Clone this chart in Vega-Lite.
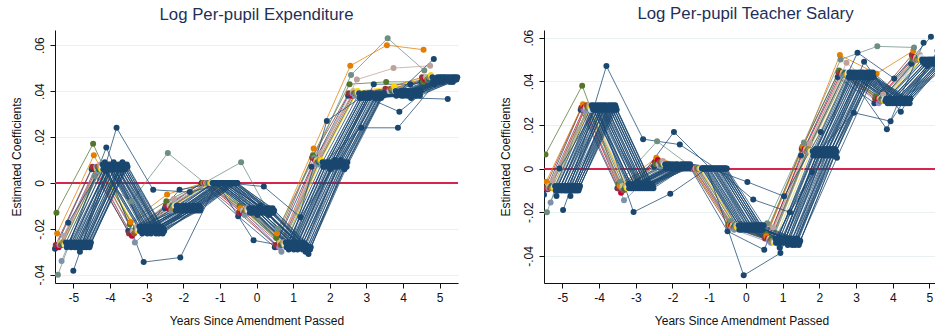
{
  "$schema": "https://vega.github.io/schema/vega-lite/v6.json",
  "padding": {"left": 9, "top": 6, "right": 0, "bottom": 0},
  "spacing": 38,
  "config": {
    "view": {"stroke": null},
    "font": "Liberation Sans",
    "title": {"fontSize": 16.8, "fontWeight": "normal", "color": "#1F2F57", "offset": 6},
    "axis": {"labelFontSize": 12, "titleFontSize": 12, "titleFontWeight": "normal", "labelColor": "#111111", "titleColor": "#111111", "domainColor": "#111111", "tickColor": "#111111", "tickSize": 5, "domainWidth": 1, "tickWidth": 1, "labelOverlap": false},
    "axisX": {"grid": false, "labelPadding": 4, "titlePadding": 12, "labelOverlap": false, "labelFlush": false, "labelSeparation": 0},
    "axisY": {"grid": true, "gridColor": "#E9F1F3", "labelAngle": -90, "labelAlign": "center", "labelBaseline": "bottom", "labelPadding": 4, "titlePadding": 10}
  },
  "datasets": {
    "expenditure": [
      {"s":1,"x":-5.5,"y":-0.0287},{"s":1,"x":-4.5,"y":0.006},{"s":1,"x":-3.5,"y":-0.021},{"s":1,"x":-2.5,"y":-0.011},{"s":1,"x":-1.5,"y":0},{"s":1,"x":-0.5,"y":-0.0145},{"s":1,"x":0.5,"y":-0.028},{"s":1,"x":1.5,"y":0.007},{"s":1,"x":2.5,"y":0.038},{"s":1,"x":3.5,"y":0.039},{"s":1,"x":4.5,"y":0.044},
      {"s":2,"x":-5.48,"y":-0.027},{"s":2,"x":-4.48,"y":0.007},{"s":2,"x":-3.48,"y":-0.022},{"s":2,"x":-2.48,"y":-0.01},{"s":2,"x":-1.48,"y":0},{"s":2,"x":-0.48,"y":-0.013},{"s":2,"x":0.52,"y":-0.027},{"s":2,"x":1.52,"y":0.011},{"s":2,"x":2.52,"y":0.039},{"s":2,"x":3.52,"y":0.041},{"s":2,"x":4.52,"y":0.046},
      {"s":3,"x":-5.46,"y":-0.013},{"s":3,"x":-4.46,"y":0.017},{"s":3,"x":-3.46,"y":-0.018},{"s":3,"x":-2.46,"y":-0.008},{"s":3,"x":-1.46,"y":0},{"s":3,"x":-0.46,"y":-0.01},{"s":3,"x":0.54,"y":-0.024},{"s":3,"x":1.54,"y":0.012},{"s":3,"x":2.54,"y":0.043},{"s":3,"x":3.54,"y":0.044},{"s":3,"x":4.54,"y":0.044},
      {"s":4,"x":-5.44,"y":-0.022},{"s":4,"x":-4.44,"y":0.012},{"s":4,"x":-3.44,"y":-0.017},{"s":4,"x":-2.44,"y":-0.005},{"s":4,"x":-1.44,"y":0},{"s":4,"x":-0.44,"y":-0.011},{"s":4,"x":0.56,"y":-0.022},{"s":4,"x":1.56,"y":0.015},{"s":4,"x":2.56,"y":0.051},{"s":4,"x":3.56,"y":0.06},{"s":4,"x":4.56,"y":0.058},
      {"s":5,"x":-5.42,"y":-0.04},{"s":5,"x":-4.42,"y":0.003},{"s":5,"x":-3.42,"y":-0.008},{"s":5,"x":-2.42,"y":0.013},{"s":5,"x":-1.42,"y":0},{"s":5,"x":-0.42,"y":0.009},{"s":5,"x":0.58,"y":-0.02},{"s":5,"x":1.58,"y":0.011},{"s":5,"x":2.58,"y":0.047},{"s":5,"x":3.58,"y":0.063},{"s":5,"x":4.58,"y":0.049},
      {"s":6,"x":-5.4,"y":-0.028},{"s":6,"x":-4.4,"y":0.006},{"s":6,"x":-3.4,"y":-0.023},{"s":6,"x":-2.4,"y":-0.011},{"s":6,"x":-1.4,"y":0},{"s":6,"x":-0.4,"y":-0.013},{"s":6,"x":0.6,"y":-0.028},{"s":6,"x":1.6,"y":0.01},{"s":6,"x":2.6,"y":0.038},{"s":6,"x":3.6,"y":0.04},{"s":6,"x":4.6,"y":0.045},
      {"s":7,"x":-5.38,"y":-0.027},{"s":7,"x":-4.38,"y":0.007},{"s":7,"x":-3.38,"y":-0.021},{"s":7,"x":-2.38,"y":-0.01},{"s":7,"x":-1.38,"y":0},{"s":7,"x":-0.38,"y":-0.012},{"s":7,"x":0.62,"y":-0.028},{"s":7,"x":1.62,"y":0.009},{"s":7,"x":2.62,"y":0.039},{"s":7,"x":3.62,"y":0.04},{"s":7,"x":4.62,"y":0.046},
      {"s":8,"x":-5.36,"y":-0.026},{"s":8,"x":-4.36,"y":0.006},{"s":8,"x":-3.36,"y":-0.021},{"s":8,"x":-2.36,"y":-0.01},{"s":8,"x":-1.36,"y":0},{"s":8,"x":-0.36,"y":-0.012},{"s":8,"x":0.64,"y":-0.026},{"s":8,"x":1.64,"y":0.01},{"s":8,"x":2.64,"y":0.04},{"s":8,"x":3.64,"y":0.04},{"s":8,"x":4.64,"y":0.046},
      {"s":9,"x":-5.34,"y":-0.027},{"s":9,"x":-4.34,"y":0.007},{"s":9,"x":-3.34,"y":-0.022},{"s":9,"x":-2.34,"y":-0.011},{"s":9,"x":-1.34,"y":0},{"s":9,"x":-0.34,"y":-0.013},{"s":9,"x":0.66,"y":-0.027},{"s":9,"x":1.66,"y":0.009},{"s":9,"x":2.66,"y":0.039},{"s":9,"x":3.66,"y":0.041},{"s":9,"x":4.66,"y":0.045},
      {"s":10,"x":-5.32,"y":-0.034},{"s":10,"x":-4.32,"y":0.005},{"s":10,"x":-3.32,"y":-0.026},{"s":10,"x":-2.32,"y":-0.012},{"s":10,"x":-1.32,"y":0},{"s":10,"x":-0.32,"y":-0.014},{"s":10,"x":0.68,"y":-0.03},{"s":10,"x":1.68,"y":0.008},{"s":10,"x":2.68,"y":0.038},{"s":10,"x":3.68,"y":0.04},{"s":10,"x":4.68,"y":0.045},
      {"s":11,"x":-5.3,"y":-0.027},{"s":11,"x":-4.3,"y":0.006},{"s":11,"x":-3.3,"y":-0.02},{"s":11,"x":-2.3,"y":-0.01},{"s":11,"x":-1.3,"y":0},{"s":11,"x":-0.3,"y":-0.012},{"s":11,"x":0.7,"y":-0.027},{"s":11,"x":1.7,"y":0.009},{"s":11,"x":2.7,"y":0.039},{"s":11,"x":3.7,"y":0.04},{"s":11,"x":4.7,"y":0.045},
      {"s":12,"x":-5.28,"y":-0.026},{"s":12,"x":-4.28,"y":0.007},{"s":12,"x":-3.28,"y":-0.021},{"s":12,"x":-2.28,"y":-0.011},{"s":12,"x":-1.28,"y":0},{"s":12,"x":-0.28,"y":-0.012},{"s":12,"x":0.72,"y":-0.026},{"s":12,"x":1.72,"y":0.01},{"s":12,"x":2.72,"y":0.039},{"s":12,"x":3.72,"y":0.041},{"s":12,"x":4.72,"y":0.046},
      {"s":13,"x":-5.26,"y":-0.023},{"s":13,"x":-4.26,"y":0.008},{"s":13,"x":-3.26,"y":-0.019},{"s":13,"x":-2.26,"y":-0.007},{"s":13,"x":-1.26,"y":0},{"s":13,"x":-0.26,"y":-0.011},{"s":13,"x":0.74,"y":-0.026},{"s":13,"x":1.74,"y":0.013},{"s":13,"x":2.74,"y":0.045},{"s":13,"x":3.74,"y":0.05},{"s":13,"x":4.74,"y":0.051},
      {"s":14,"x":-5.24,"y":-0.027},{"s":14,"x":-4.24,"y":0.006},{"s":14,"x":-3.24,"y":-0.021},{"s":14,"x":-2.24,"y":-0.01},{"s":14,"x":-1.24,"y":0},{"s":14,"x":-0.24,"y":-0.012},{"s":14,"x":0.76,"y":-0.027},{"s":14,"x":1.76,"y":0.01},{"s":14,"x":2.76,"y":0.04},{"s":14,"x":3.76,"y":0.042},{"s":14,"x":4.76,"y":0.047},
      {"s":15,"x":-5.22,"y":-0.027},{"s":15,"x":-4.22,"y":0.007},{"s":15,"x":-3.22,"y":-0.02},{"s":15,"x":-2.22,"y":-0.01},{"s":15,"x":-1.22,"y":0},{"s":15,"x":-0.22,"y":-0.012},{"s":15,"x":0.78,"y":-0.027},{"s":15,"x":1.78,"y":0.009},{"s":15,"x":2.78,"y":0.039},{"s":15,"x":3.78,"y":0.04},{"s":15,"x":4.78,"y":0.046},
      {"s":16,"x":-5.2,"y":-0.026},{"s":16,"x":-4.2,"y":0.008},{"s":16,"x":-3.2,"y":-0.019},{"s":16,"x":-2.2,"y":-0.012},{"s":16,"x":-1.2,"y":0},{"s":16,"x":-0.2,"y":-0.011},{"s":16,"x":0.8,"y":-0.026},{"s":16,"x":1.8,"y":0.009},{"s":16,"x":2.8,"y":0.039},{"s":16,"x":3.8,"y":0.04},{"s":16,"x":4.8,"y":0.046},
      {"s":17,"x":-5.18,"y":-0.028},{"s":17,"x":-4.18,"y":0.006},{"s":17,"x":-3.18,"y":-0.021},{"s":17,"x":-2.18,"y":-0.01},{"s":17,"x":-1.18,"y":0},{"s":17,"x":-0.18,"y":-0.013},{"s":17,"x":0.82,"y":-0.028},{"s":17,"x":1.82,"y":0.007},{"s":17,"x":2.82,"y":0.037},{"s":17,"x":3.82,"y":0.038},{"s":17,"x":4.82,"y":0.044},
      {"s":18,"x":-5.16,"y":-0.027},{"s":18,"x":-4.16,"y":0.007},{"s":18,"x":-3.16,"y":-0.02},{"s":18,"x":-2.16,"y":-0.011},{"s":18,"x":-1.16,"y":0},{"s":18,"x":-0.16,"y":-0.012},{"s":18,"x":0.84,"y":-0.027},{"s":18,"x":1.84,"y":0.008},{"s":18,"x":2.84,"y":0.038},{"s":18,"x":3.84,"y":0.039},{"s":18,"x":4.84,"y":0.054},
      {"s":19,"x":-5.14,"y":-0.0174},{"s":19,"x":-4.14,"y":0.009},{"s":19,"x":-3.14,"y":-0.019},{"s":19,"x":-2.14,"y":-0.01},{"s":19,"x":-1.14,"y":0},{"s":19,"x":-0.14,"y":-0.011},{"s":19,"x":0.86,"y":-0.026},{"s":19,"x":1.86,"y":0.009},{"s":19,"x":2.86,"y":0.024},{"s":19,"x":3.86,"y":0.024},{"s":19,"x":4.86,"y":0.043},
      {"s":20,"x":-5.12,"y":-0.027},{"s":20,"x":-4.12,"y":0.005},{"s":20,"x":-3.12,"y":-0.022},{"s":20,"x":-2.12,"y":-0.012},{"s":20,"x":-1.12,"y":0},{"s":20,"x":-0.12,"y":-0.013},{"s":20,"x":0.88,"y":-0.029},{"s":20,"x":1.88,"y":0.007},{"s":20,"x":2.88,"y":0.037},{"s":20,"x":3.88,"y":0.039},{"s":20,"x":4.88,"y":0.045},
      {"s":21,"x":-5.1,"y":-0.026},{"s":21,"x":-4.1,"y":0.0154},{"s":21,"x":-3.1,"y":-0.021},{"s":21,"x":-2.1,"y":-0.003},{"s":21,"x":-1.1,"y":0},{"s":21,"x":-0.1,"y":-0.012},{"s":21,"x":0.9,"y":-0.027},{"s":21,"x":1.9,"y":0.008},{"s":21,"x":2.9,"y":0.038},{"s":21,"x":3.9,"y":0.031},{"s":21,"x":4.9,"y":0.044},
      {"s":22,"x":-5.08,"y":-0.027},{"s":22,"x":-4.08,"y":0.006},{"s":22,"x":-3.08,"y":-0.0345},{"s":22,"x":-2.08,"y":-0.0325},{"s":22,"x":-1.08,"y":0},{"s":22,"x":-0.08,"y":-0.025},{"s":22,"x":0.92,"y":-0.028},{"s":22,"x":1.92,"y":0.027},{"s":22,"x":2.92,"y":0.038},{"s":22,"x":3.92,"y":0.039},{"s":22,"x":4.92,"y":0.045},
      {"s":23,"x":-5.06,"y":-0.028},{"s":23,"x":-4.06,"y":0.008},{"s":23,"x":-3.06,"y":-0.02},{"s":23,"x":-2.06,"y":-0.011},{"s":23,"x":-1.06,"y":0},{"s":23,"x":-0.06,"y":-0.011},{"s":23,"x":0.94,"y":-0.027},{"s":23,"x":1.94,"y":0.009},{"s":23,"x":2.94,"y":0.039},{"s":23,"x":3.94,"y":0.04},{"s":23,"x":4.94,"y":0.046},
      {"s":24,"x":-5.04,"y":-0.026},{"s":24,"x":-4.04,"y":0.007},{"s":24,"x":-3.04,"y":-0.019},{"s":24,"x":-2.04,"y":-0.012},{"s":24,"x":-1.04,"y":0},{"s":24,"x":-0.04,"y":-0.013},{"s":24,"x":0.96,"y":-0.028},{"s":24,"x":1.96,"y":0.008},{"s":24,"x":2.96,"y":0.038},{"s":24,"x":3.96,"y":0.038},{"s":24,"x":4.96,"y":0.045},
      {"s":25,"x":-5.02,"y":-0.027},{"s":25,"x":-4.02,"y":0.006},{"s":25,"x":-3.02,"y":-0.021},{"s":25,"x":-2.02,"y":-0.011},{"s":25,"x":-1.02,"y":0},{"s":25,"x":-0.02,"y":-0.012},{"s":25,"x":0.98,"y":-0.026},{"s":25,"x":1.98,"y":0.007},{"s":25,"x":2.98,"y":0.037},{"s":25,"x":3.98,"y":0.039},{"s":25,"x":4.98,"y":0.044},
      {"s":26,"x":-5,"y":-0.0383},{"s":26,"x":-4,"y":0.008},{"s":26,"x":-3,"y":-0.02},{"s":26,"x":-2,"y":-0.01},{"s":26,"x":-1,"y":0},{"s":26,"x":0,"y":-0.012},{"s":26,"x":1,"y":-0.027},{"s":26,"x":2,"y":0.008},{"s":26,"x":3,"y":0.038},{"s":26,"x":4,"y":0.04},{"s":26,"x":5,"y":0.046},
      {"s":27,"x":-4.98,"y":-0.027},{"s":27,"x":-3.98,"y":0.007},{"s":27,"x":-2.98,"y":-0.022},{"s":27,"x":-1.98,"y":-0.012},{"s":27,"x":-0.98,"y":0},{"s":27,"x":0.02,"y":-0.014},{"s":27,"x":1.02,"y":-0.029},{"s":27,"x":2.02,"y":0.006},{"s":27,"x":3.02,"y":0.037},{"s":27,"x":4.02,"y":0.038},{"s":27,"x":5.02,"y":0.045},
      {"s":28,"x":-4.96,"y":-0.028},{"s":28,"x":-3.96,"y":0.006},{"s":28,"x":-2.96,"y":-0.02},{"s":28,"x":-1.96,"y":-0.011},{"s":28,"x":-0.96,"y":0},{"s":28,"x":0.04,"y":-0.011},{"s":28,"x":1.04,"y":-0.027},{"s":28,"x":2.04,"y":0.009},{"s":28,"x":3.04,"y":0.039},{"s":28,"x":4.04,"y":0.039},{"s":28,"x":5.04,"y":0.046},
      {"s":29,"x":-4.94,"y":-0.026},{"s":29,"x":-3.94,"y":0.008},{"s":29,"x":-2.94,"y":-0.019},{"s":29,"x":-1.94,"y":-0.01},{"s":29,"x":-0.94,"y":0},{"s":29,"x":0.06,"y":-0.012},{"s":29,"x":1.06,"y":-0.026},{"s":29,"x":2.06,"y":0.008},{"s":29,"x":3.06,"y":0.038},{"s":29,"x":4.06,"y":0.04},{"s":29,"x":5.06,"y":0.045},
      {"s":30,"x":-4.92,"y":-0.027},{"s":30,"x":-3.92,"y":0.007},{"s":30,"x":-2.92,"y":-0.021},{"s":30,"x":-1.92,"y":-0.012},{"s":30,"x":-0.92,"y":0},{"s":30,"x":0.08,"y":-0.013},{"s":30,"x":1.08,"y":-0.028},{"s":30,"x":2.08,"y":0.007},{"s":30,"x":3.08,"y":0.037},{"s":30,"x":4.08,"y":0.039},{"s":30,"x":5.08,"y":0.044},
      {"s":31,"x":-4.9,"y":-0.028},{"s":31,"x":-3.9,"y":0.009},{"s":31,"x":-2.9,"y":-0.02},{"s":31,"x":-1.9,"y":-0.011},{"s":31,"x":-0.9,"y":0},{"s":31,"x":0.1,"y":-0.01},{"s":31,"x":1.1,"y":-0.027},{"s":31,"x":2.1,"y":0.009},{"s":31,"x":3.1,"y":0.039},{"s":31,"x":4.1,"y":0.04},{"s":31,"x":5.1,"y":0.046},
      {"s":32,"x":-4.88,"y":-0.027},{"s":32,"x":-3.88,"y":0.006},{"s":32,"x":-2.88,"y":-0.022},{"s":32,"x":-1.88,"y":-0.012},{"s":32,"x":-0.88,"y":0},{"s":32,"x":0.12,"y":-0.012},{"s":32,"x":1.12,"y":-0.029},{"s":32,"x":2.12,"y":0.008},{"s":32,"x":3.12,"y":0.038},{"s":32,"x":4.12,"y":0.038},{"s":32,"x":5.12,"y":0.045},
      {"s":33,"x":-4.86,"y":-0.026},{"s":33,"x":-3.86,"y":0.007},{"s":33,"x":-2.86,"y":-0.019},{"s":33,"x":-1.86,"y":-0.01},{"s":33,"x":-0.86,"y":0},{"s":33,"x":0.14,"y":-0.011},{"s":33,"x":1.14,"y":-0.026},{"s":33,"x":2.14,"y":0.01},{"s":33,"x":3.14,"y":0.039},{"s":33,"x":4.14,"y":0.039},{"s":33,"x":5.14,"y":0.046},
      {"s":34,"x":-4.84,"y":-0.027},{"s":34,"x":-3.84,"y":0.008},{"s":34,"x":-2.84,"y":-0.021},{"s":34,"x":-1.84,"y":-0.011},{"s":34,"x":-0.84,"y":0},{"s":34,"x":0.16,"y":-0.013},{"s":34,"x":1.16,"y":-0.028},{"s":34,"x":2.16,"y":0.007},{"s":34,"x":3.16,"y":0.038},{"s":34,"x":4.16,"y":0.04},{"s":34,"x":5.16,"y":0.045},
      {"s":35,"x":-4.82,"y":-0.03},{"s":35,"x":-3.82,"y":0.024},{"s":35,"x":-2.82,"y":-0.003},{"s":35,"x":-1.82,"y":-0.004},{"s":35,"x":-0.82,"y":0},{"s":35,"x":0.18,"y":-0.012},{"s":35,"x":1.18,"y":-0.027},{"s":35,"x":2.18,"y":0.008},{"s":35,"x":3.18,"y":0.038},{"s":35,"x":4.18,"y":0.039},{"s":35,"x":5.18,"y":0.045},
      {"s":36,"x":-4.8,"y":-0.027},{"s":36,"x":-3.8,"y":0.007},{"s":36,"x":-2.8,"y":-0.02},{"s":36,"x":-1.8,"y":-0.011},{"s":36,"x":-0.8,"y":0},{"s":36,"x":0.2,"y":-0.0016},{"s":36,"x":1.2,"y":-0.015},{"s":36,"x":2.2,"y":0.009},{"s":36,"x":3.2,"y":0.043},{"s":36,"x":4.2,"y":0.043},{"s":36,"x":5.2,"y":0.046},
      {"s":37,"x":-4.78,"y":-0.028},{"s":37,"x":-3.78,"y":0.006},{"s":37,"x":-2.78,"y":-0.021},{"s":37,"x":-1.78,"y":-0.012},{"s":37,"x":-0.78,"y":0},{"s":37,"x":0.22,"y":-0.012},{"s":37,"x":1.22,"y":-0.028},{"s":37,"x":2.22,"y":0.008},{"s":37,"x":3.22,"y":0.038},{"s":37,"x":4.22,"y":0.037},{"s":37,"x":5.22,"y":0.0365},
      {"s":38,"x":-4.76,"y":-0.026},{"s":38,"x":-3.76,"y":0.008},{"s":38,"x":-2.76,"y":-0.02},{"s":38,"x":-1.76,"y":-0.011},{"s":38,"x":-0.76,"y":0},{"s":38,"x":0.24,"y":-0.013},{"s":38,"x":1.24,"y":-0.027},{"s":38,"x":2.24,"y":0.007},{"s":38,"x":3.24,"y":0.037},{"s":38,"x":4.24,"y":0.039},{"s":38,"x":5.24,"y":0.045},
      {"s":39,"x":-4.74,"y":-0.027},{"s":39,"x":-3.74,"y":0.007},{"s":39,"x":-2.74,"y":-0.022},{"s":39,"x":-1.74,"y":-0.01},{"s":39,"x":-0.74,"y":0},{"s":39,"x":0.26,"y":-0.012},{"s":39,"x":1.26,"y":-0.029},{"s":39,"x":2.26,"y":0.009},{"s":39,"x":3.26,"y":0.038},{"s":39,"x":4.26,"y":0.04},{"s":39,"x":5.26,"y":0.046},
      {"s":40,"x":-4.72,"y":-0.028},{"s":40,"x":-3.72,"y":0.006},{"s":40,"x":-2.72,"y":-0.019},{"s":40,"x":-1.72,"y":-0.012},{"s":40,"x":-0.72,"y":0},{"s":40,"x":0.28,"y":-0.011},{"s":40,"x":1.28,"y":-0.026},{"s":40,"x":2.28,"y":0.008},{"s":40,"x":3.28,"y":0.039},{"s":40,"x":4.28,"y":0.038},{"s":40,"x":5.28,"y":0.044},
      {"s":41,"x":-4.7,"y":-0.027},{"s":41,"x":-3.7,"y":0.008},{"s":41,"x":-2.7,"y":-0.021},{"s":41,"x":-1.7,"y":-0.011},{"s":41,"x":-0.7,"y":0},{"s":41,"x":0.3,"y":-0.013},{"s":41,"x":1.3,"y":-0.028},{"s":41,"x":2.3,"y":0.01},{"s":41,"x":3.3,"y":0.038},{"s":41,"x":4.3,"y":0.039},{"s":41,"x":5.3,"y":0.045},
      {"s":42,"x":-4.68,"y":-0.026},{"s":42,"x":-3.68,"y":0.007},{"s":42,"x":-2.68,"y":-0.02},{"s":42,"x":-1.68,"y":-0.01},{"s":42,"x":-0.68,"y":0},{"s":42,"x":0.32,"y":-0.012},{"s":42,"x":1.32,"y":-0.027},{"s":42,"x":2.32,"y":0.008},{"s":42,"x":3.32,"y":0.037},{"s":42,"x":4.32,"y":0.04},{"s":42,"x":5.32,"y":0.046},
      {"s":43,"x":-4.66,"y":-0.027},{"s":43,"x":-3.66,"y":0.009},{"s":43,"x":-2.66,"y":-0.022},{"s":43,"x":-1.66,"y":-0.012},{"s":43,"x":-0.66,"y":0},{"s":43,"x":0.34,"y":-0.014},{"s":43,"x":1.34,"y":-0.03},{"s":43,"x":2.34,"y":0.007},{"s":43,"x":3.34,"y":0.038},{"s":43,"x":4.34,"y":0.039},{"s":43,"x":5.34,"y":0.045},
      {"s":44,"x":-4.64,"y":-0.028},{"s":44,"x":-3.64,"y":0.006},{"s":44,"x":-2.64,"y":-0.02},{"s":44,"x":-1.64,"y":-0.011},{"s":44,"x":-0.64,"y":0},{"s":44,"x":0.36,"y":-0.011},{"s":44,"x":1.36,"y":-0.027},{"s":44,"x":2.36,"y":0.009},{"s":44,"x":3.36,"y":0.039},{"s":44,"x":4.36,"y":0.038},{"s":44,"x":5.36,"y":0.044},
      {"s":45,"x":-4.62,"y":-0.027},{"s":45,"x":-3.62,"y":0.007},{"s":45,"x":-2.62,"y":-0.021},{"s":45,"x":-1.62,"y":-0.01},{"s":45,"x":-0.62,"y":0},{"s":45,"x":0.38,"y":-0.012},{"s":45,"x":1.38,"y":-0.028},{"s":45,"x":2.38,"y":0.008},{"s":45,"x":3.38,"y":0.038},{"s":45,"x":4.38,"y":0.04},{"s":45,"x":5.38,"y":0.046},
      {"s":46,"x":-4.6,"y":-0.026},{"s":46,"x":-3.6,"y":0.008},{"s":46,"x":-2.6,"y":-0.019},{"s":46,"x":-1.6,"y":-0.012},{"s":46,"x":-0.6,"y":0},{"s":46,"x":0.4,"y":-0.013},{"s":46,"x":1.4,"y":-0.029},{"s":46,"x":2.4,"y":0.006},{"s":46,"x":3.4,"y":0.037},{"s":46,"x":4.4,"y":0.039},{"s":46,"x":5.4,"y":0.045},
      {"s":47,"x":-4.58,"y":-0.027},{"s":47,"x":-3.58,"y":0.006},{"s":47,"x":-2.58,"y":-0.021},{"s":47,"x":-1.58,"y":-0.011},{"s":47,"x":-0.58,"y":0},{"s":47,"x":0.42,"y":-0.012},{"s":47,"x":1.42,"y":-0.031},{"s":47,"x":2.42,"y":0.009},{"s":47,"x":3.42,"y":0.038},{"s":47,"x":4.42,"y":0.04},{"s":47,"x":5.42,"y":0.046},
      {"s":48,"x":-4.56,"y":-0.028},{"s":48,"x":-3.56,"y":0.007},{"s":48,"x":-2.56,"y":-0.022},{"s":48,"x":-1.56,"y":-0.01},{"s":48,"x":-0.56,"y":0},{"s":48,"x":0.44,"y":-0.011},{"s":48,"x":1.44,"y":-0.028},{"s":48,"x":2.44,"y":0.008},{"s":48,"x":3.44,"y":0.039},{"s":48,"x":4.44,"y":0.039},{"s":48,"x":5.44,"y":0.045},
      {"s":49,"x":-4.54,"y":-0.027},{"s":49,"x":-3.54,"y":0.008},{"s":49,"x":-2.54,"y":-0.02},{"s":49,"x":-1.54,"y":-0.012},{"s":49,"x":-0.54,"y":0},{"s":49,"x":0.46,"y":-0.013},{"s":49,"x":1.46,"y":-0.029},{"s":49,"x":2.46,"y":0.007},{"s":49,"x":3.46,"y":0.038},{"s":49,"x":4.46,"y":0.038},{"s":49,"x":5.46,"y":0.045},
      {"s":50,"x":-4.52,"y":-0.026},{"s":50,"x":-3.52,"y":0.007},{"s":50,"x":-2.52,"y":-0.021},{"s":50,"x":-1.52,"y":-0.011},{"s":50,"x":-0.52,"y":0},{"s":50,"x":0.48,"y":-0.012},{"s":50,"x":1.48,"y":-0.028},{"s":50,"x":2.48,"y":0.009},{"s":50,"x":3.48,"y":0.039},{"s":50,"x":4.48,"y":0.04},{"s":50,"x":5.48,"y":0.046}
    ],
    "salary": [
      {"s":1,"x":-5.5,"y":-0.012},{"s":1,"x":-4.5,"y":0.027},{"s":1,"x":-3.5,"y":-0.009},{"s":1,"x":-2.5,"y":0.001},{"s":1,"x":-1.5,"y":0},{"s":1,"x":-0.5,"y":-0.0287},{"s":1,"x":0.5,"y":-0.0372},{"s":1,"x":1.5,"y":0.006},{"s":1,"x":2.5,"y":0.042},{"s":1,"x":3.5,"y":0.03},{"s":1,"x":4.5,"y":0.048},
      {"s":2,"x":-5.48,"y":-0.009},{"s":2,"x":-4.48,"y":0.028},{"s":2,"x":-3.48,"y":-0.009},{"s":2,"x":-2.48,"y":0.003},{"s":2,"x":-1.48,"y":0},{"s":2,"x":-0.48,"y":-0.026},{"s":2,"x":0.52,"y":-0.032},{"s":2,"x":1.52,"y":0.009},{"s":2,"x":2.52,"y":0.044},{"s":2,"x":3.52,"y":0.032},{"s":2,"x":4.52,"y":0.052},
      {"s":3,"x":-5.46,"y":0.0065},{"s":3,"x":-4.46,"y":0.038},{"s":3,"x":-3.46,"y":-0.007},{"s":3,"x":-2.46,"y":0.002},{"s":3,"x":-1.46,"y":0},{"s":3,"x":-0.46,"y":-0.025},{"s":3,"x":0.54,"y":-0.03},{"s":3,"x":1.54,"y":0.01},{"s":3,"x":2.54,"y":0.045},{"s":3,"x":3.54,"y":0.033},{"s":3,"x":4.54,"y":0.05},
      {"s":4,"x":-5.44,"y":-0.006},{"s":4,"x":-4.44,"y":0.0295},{"s":4,"x":-3.44,"y":-0.008},{"s":4,"x":-2.44,"y":0.005},{"s":4,"x":-1.44,"y":0},{"s":4,"x":-0.44,"y":-0.026},{"s":4,"x":0.56,"y":-0.031},{"s":4,"x":1.56,"y":0.01},{"s":4,"x":2.56,"y":0.052},{"s":4,"x":3.56,"y":0.0435},{"s":4,"x":4.56,"y":0.054},
      {"s":5,"x":-5.42,"y":-0.02},{"s":5,"x":-4.42,"y":0.027},{"s":5,"x":-3.42,"y":-0.006},{"s":5,"x":-2.42,"y":0.0125},{"s":5,"x":-1.42,"y":0},{"s":5,"x":-0.42,"y":-0.024},{"s":5,"x":0.58,"y":-0.025},{"s":5,"x":1.58,"y":0.012},{"s":5,"x":2.58,"y":0.05},{"s":5,"x":3.58,"y":0.056},{"s":5,"x":4.58,"y":0.0555},
      {"s":6,"x":-5.4,"y":-0.0095},{"s":6,"x":-4.4,"y":0.028},{"s":6,"x":-3.4,"y":-0.011},{"s":6,"x":-2.4,"y":0.004},{"s":6,"x":-1.4,"y":0},{"s":6,"x":-0.4,"y":-0.026},{"s":6,"x":0.6,"y":-0.032},{"s":6,"x":1.6,"y":0.009},{"s":6,"x":2.6,"y":0.044},{"s":6,"x":3.6,"y":0.032},{"s":6,"x":4.6,"y":0.051},
      {"s":7,"x":-5.38,"y":-0.009},{"s":7,"x":-4.38,"y":0.027},{"s":7,"x":-3.38,"y":-0.009},{"s":7,"x":-2.38,"y":0.002},{"s":7,"x":-1.38,"y":0},{"s":7,"x":-0.38,"y":-0.027},{"s":7,"x":0.62,"y":-0.033},{"s":7,"x":1.62,"y":0.008},{"s":7,"x":2.62,"y":0.043},{"s":7,"x":3.62,"y":0.03},{"s":7,"x":4.62,"y":0.05},
      {"s":8,"x":-5.36,"y":-0.008},{"s":8,"x":-4.36,"y":0.028},{"s":8,"x":-3.36,"y":-0.008},{"s":8,"x":-2.36,"y":0.002},{"s":8,"x":-1.36,"y":0},{"s":8,"x":-0.36,"y":-0.026},{"s":8,"x":0.64,"y":-0.032},{"s":8,"x":1.64,"y":0.009},{"s":8,"x":2.64,"y":0.044},{"s":8,"x":3.64,"y":0.032},{"s":8,"x":4.64,"y":0.051},
      {"s":9,"x":-5.34,"y":-0.009},{"s":9,"x":-4.34,"y":0.029},{"s":9,"x":-3.34,"y":-0.01},{"s":9,"x":-2.34,"y":0.003},{"s":9,"x":-1.34,"y":0},{"s":9,"x":-0.34,"y":-0.027},{"s":9,"x":0.66,"y":-0.033},{"s":9,"x":1.66,"y":0.008},{"s":9,"x":2.66,"y":0.043},{"s":9,"x":3.66,"y":0.031},{"s":9,"x":4.66,"y":0.05},
      {"s":10,"x":-5.32,"y":-0.0155},{"s":10,"x":-4.32,"y":0.027},{"s":10,"x":-3.32,"y":-0.0145},{"s":10,"x":-2.32,"y":0.001},{"s":10,"x":-1.32,"y":0},{"s":10,"x":-0.32,"y":-0.028},{"s":10,"x":0.68,"y":-0.034},{"s":10,"x":1.68,"y":0.008},{"s":10,"x":2.68,"y":0.043},{"s":10,"x":3.68,"y":0.031},{"s":10,"x":4.68,"y":0.05},
      {"s":11,"x":-5.3,"y":-0.008},{"s":11,"x":-4.3,"y":0.028},{"s":11,"x":-3.3,"y":-0.009},{"s":11,"x":-2.3,"y":0.002},{"s":11,"x":-1.3,"y":0},{"s":11,"x":-0.3,"y":-0.026},{"s":11,"x":0.7,"y":-0.032},{"s":11,"x":1.7,"y":0.009},{"s":11,"x":2.7,"y":0.044},{"s":11,"x":3.7,"y":0.032},{"s":11,"x":4.7,"y":0.051},
      {"s":12,"x":-5.28,"y":-0.009},{"s":12,"x":-4.28,"y":0.028},{"s":12,"x":-3.28,"y":-0.008},{"s":12,"x":-2.28,"y":0.003},{"s":12,"x":-1.28,"y":0},{"s":12,"x":-0.28,"y":-0.027},{"s":12,"x":0.72,"y":-0.033},{"s":12,"x":1.72,"y":0.009},{"s":12,"x":2.72,"y":0.043},{"s":12,"x":3.72,"y":0.031},{"s":12,"x":4.72,"y":0.05},
      {"s":13,"x":-5.26,"y":-0.0055},{"s":13,"x":-4.26,"y":0.029},{"s":13,"x":-3.26,"y":-0.008},{"s":13,"x":-2.26,"y":0.0035},{"s":13,"x":-1.26,"y":0},{"s":13,"x":-0.26,"y":-0.026},{"s":13,"x":0.74,"y":-0.027},{"s":13,"x":1.74,"y":0.0115},{"s":13,"x":2.74,"y":0.0485},{"s":13,"x":3.74,"y":0.034},{"s":13,"x":4.74,"y":0.052},
      {"s":14,"x":-5.24,"y":-0.009},{"s":14,"x":-4.24,"y":0.028},{"s":14,"x":-3.24,"y":-0.009},{"s":14,"x":-2.24,"y":0.002},{"s":14,"x":-1.24,"y":0},{"s":14,"x":-0.24,"y":-0.027},{"s":14,"x":0.76,"y":-0.034},{"s":14,"x":1.76,"y":0.008},{"s":14,"x":2.76,"y":0.043},{"s":14,"x":3.76,"y":0.031},{"s":14,"x":4.76,"y":0.05},
      {"s":15,"x":-5.22,"y":-0.008},{"s":15,"x":-4.22,"y":0.027},{"s":15,"x":-3.22,"y":-0.008},{"s":15,"x":-2.22,"y":0.002},{"s":15,"x":-1.22,"y":0},{"s":15,"x":-0.22,"y":-0.026},{"s":15,"x":0.78,"y":-0.033},{"s":15,"x":1.78,"y":0.008},{"s":15,"x":2.78,"y":0.044},{"s":15,"x":3.78,"y":0.032},{"s":15,"x":4.78,"y":0.051},
      {"s":16,"x":-5.2,"y":-0.008},{"s":16,"x":-4.2,"y":0.029},{"s":16,"x":-3.2,"y":-0.007},{"s":16,"x":-2.2,"y":0.002},{"s":16,"x":-1.2,"y":0},{"s":16,"x":-0.2,"y":-0.026},{"s":16,"x":0.8,"y":-0.032},{"s":16,"x":1.8,"y":-0.0015},{"s":16,"x":2.8,"y":0.042},{"s":16,"x":3.8,"y":0.031},{"s":16,"x":4.8,"y":0.05},
      {"s":17,"x":-5.18,"y":-0.01},{"s":17,"x":-4.18,"y":0.028},{"s":17,"x":-3.18,"y":-0.009},{"s":17,"x":-2.18,"y":0},{"s":17,"x":-1.18,"y":0},{"s":17,"x":-0.18,"y":-0.028},{"s":17,"x":0.82,"y":-0.034},{"s":17,"x":1.82,"y":0.008},{"s":17,"x":2.82,"y":0.044},{"s":17,"x":3.82,"y":0.032},{"s":17,"x":4.82,"y":0.049},
      {"s":18,"x":-5.16,"y":-0.0125},{"s":18,"x":-4.16,"y":0.027},{"s":18,"x":-3.16,"y":-0.008},{"s":18,"x":-2.16,"y":0.001},{"s":18,"x":-1.16,"y":0},{"s":18,"x":-0.16,"y":-0.027},{"s":18,"x":0.84,"y":-0.033},{"s":18,"x":1.84,"y":0.006},{"s":18,"x":2.84,"y":0.042},{"s":18,"x":3.84,"y":0.018},{"s":18,"x":4.84,"y":0.0577},
      {"s":19,"x":-5.14,"y":-0.009},{"s":19,"x":-4.14,"y":0.029},{"s":19,"x":-3.14,"y":-0.007},{"s":19,"x":-2.14,"y":0.002},{"s":19,"x":-1.14,"y":0},{"s":19,"x":-0.14,"y":-0.026},{"s":19,"x":0.86,"y":-0.032},{"s":19,"x":1.86,"y":0.008},{"s":19,"x":2.86,"y":0.044},{"s":19,"x":3.86,"y":0.03},{"s":19,"x":4.86,"y":0.048},
      {"s":20,"x":-5.12,"y":-0.008},{"s":20,"x":-4.12,"y":0.028},{"s":20,"x":-3.12,"y":-0.009},{"s":20,"x":-2.12,"y":0},{"s":20,"x":-1.12,"y":0},{"s":20,"x":-0.12,"y":-0.028},{"s":20,"x":0.88,"y":-0.034},{"s":20,"x":1.88,"y":0.007},{"s":20,"x":2.88,"y":0.043},{"s":20,"x":3.88,"y":0.032},{"s":20,"x":4.88,"y":0.05},
      {"s":21,"x":-5.1,"y":-0.01},{"s":21,"x":-4.1,"y":0.027},{"s":21,"x":-3.1,"y":-0.008},{"s":21,"x":-2.1,"y":0.001},{"s":21,"x":-1.1,"y":0},{"s":21,"x":-0.1,"y":-0.027},{"s":21,"x":0.9,"y":-0.033},{"s":21,"x":1.9,"y":0.009},{"s":21,"x":2.9,"y":0.042},{"s":21,"x":3.9,"y":0.031},{"s":21,"x":4.9,"y":0.049},
      {"s":22,"x":-5.08,"y":0},{"s":22,"x":-4.08,"y":0.028},{"s":22,"x":-3.08,"y":-0.009},{"s":22,"x":-2.08,"y":0.002},{"s":22,"x":-1.08,"y":0},{"s":22,"x":-0.08,"y":-0.026},{"s":22,"x":0.92,"y":-0.0362},{"s":22,"x":1.92,"y":0.006},{"s":22,"x":2.92,"y":0.044},{"s":22,"x":3.92,"y":0.03},{"s":22,"x":4.92,"y":0.048},
      {"s":23,"x":-5.06,"y":-0.009},{"s":23,"x":-4.06,"y":0.029},{"s":23,"x":-3.06,"y":-0.0199},{"s":23,"x":-2.06,"y":-0.0115},{"s":23,"x":-1.06,"y":0},{"s":23,"x":-0.06,"y":-0.0489},{"s":23,"x":0.94,"y":-0.0387},{"s":23,"x":1.94,"y":0.007},{"s":23,"x":2.94,"y":0.0256},{"s":23,"x":3.94,"y":0.0217},{"s":23,"x":4.94,"y":0.047},
      {"s":24,"x":-5.04,"y":-0.008},{"s":24,"x":-4.04,"y":0.027},{"s":24,"x":-3.04,"y":-0.007},{"s":24,"x":-2.04,"y":0.001},{"s":24,"x":-1.04,"y":0},{"s":24,"x":-0.04,"y":-0.028},{"s":24,"x":0.96,"y":-0.034},{"s":24,"x":1.96,"y":0.008},{"s":24,"x":2.96,"y":0.043},{"s":24,"x":3.96,"y":0.032},{"s":24,"x":4.96,"y":0.05},
      {"s":25,"x":-5.02,"y":-0.01},{"s":25,"x":-4.02,"y":0.028},{"s":25,"x":-3.02,"y":-0.008},{"s":25,"x":-2.02,"y":0},{"s":25,"x":-1.02,"y":0},{"s":25,"x":-0.02,"y":-0.027},{"s":25,"x":0.98,"y":-0.032},{"s":25,"x":1.98,"y":0.006},{"s":25,"x":2.98,"y":0.042},{"s":25,"x":3.98,"y":0.031},{"s":25,"x":4.98,"y":0.049},
      {"s":26,"x":-5,"y":-0.009},{"s":26,"x":-4,"y":0.029},{"s":26,"x":-3,"y":-0.009},{"s":26,"x":-2,"y":0.002},{"s":26,"x":-1,"y":0},{"s":26,"x":0,"y":-0.026},{"s":26,"x":1,"y":-0.033},{"s":26,"x":2,"y":0.009},{"s":26,"x":3,"y":0.044},{"s":26,"x":4,"y":0.03},{"s":26,"x":5,"y":0.048},
      {"s":27,"x":-4.98,"y":-0.019},{"s":27,"x":-3.98,"y":0.027},{"s":27,"x":-2.98,"y":-0.007},{"s":27,"x":-1.98,"y":0.001},{"s":27,"x":-0.98,"y":0},{"s":27,"x":0.02,"y":-0.028},{"s":27,"x":1.02,"y":-0.034},{"s":27,"x":2.02,"y":0.007},{"s":27,"x":3.02,"y":0.043},{"s":27,"x":4.02,"y":0.032},{"s":27,"x":5.02,"y":0.05},
      {"s":28,"x":-4.96,"y":-0.008},{"s":28,"x":-3.96,"y":0.028},{"s":28,"x":-2.96,"y":-0.006},{"s":28,"x":-1.96,"y":0.0168},{"s":28,"x":-0.96,"y":0},{"s":28,"x":0.04,"y":-0.0061},{"s":28,"x":1.04,"y":-0.0127},{"s":28,"x":2.04,"y":0.0168},{"s":28,"x":3.04,"y":0.0531},{"s":28,"x":4.04,"y":0.0413},{"s":28,"x":5.04,"y":0.0604},
      {"s":29,"x":-4.94,"y":-0.01},{"s":29,"x":-3.94,"y":0.029},{"s":29,"x":-2.94,"y":-0.009},{"s":29,"x":-1.94,"y":0},{"s":29,"x":-0.94,"y":0},{"s":29,"x":0.06,"y":-0.027},{"s":29,"x":1.06,"y":-0.033},{"s":29,"x":2.06,"y":0.008},{"s":29,"x":3.06,"y":0.042},{"s":29,"x":4.06,"y":0.031},{"s":29,"x":5.06,"y":0.049},
      {"s":30,"x":-4.92,"y":-0.009},{"s":30,"x":-3.92,"y":0.027},{"s":30,"x":-2.92,"y":-0.008},{"s":30,"x":-1.92,"y":0.002},{"s":30,"x":-0.92,"y":0},{"s":30,"x":0.08,"y":-0.026},{"s":30,"x":1.08,"y":-0.032},{"s":30,"x":2.08,"y":0.006},{"s":30,"x":3.08,"y":0.044},{"s":30,"x":4.08,"y":0.03},{"s":30,"x":5.08,"y":0.05},
      {"s":31,"x":-4.9,"y":-0.008},{"s":31,"x":-3.9,"y":0.028},{"s":31,"x":-2.9,"y":-0.007},{"s":31,"x":-1.9,"y":0.001},{"s":31,"x":-0.9,"y":0},{"s":31,"x":0.1,"y":-0.028},{"s":31,"x":1.1,"y":-0.034},{"s":31,"x":2.1,"y":0.009},{"s":31,"x":3.1,"y":0.043},{"s":31,"x":4.1,"y":0.032},{"s":31,"x":5.1,"y":0.048},
      {"s":32,"x":-4.88,"y":-0.01},{"s":32,"x":-3.88,"y":0.029},{"s":32,"x":-2.88,"y":-0.009},{"s":32,"x":-1.88,"y":0},{"s":32,"x":-0.88,"y":0},{"s":32,"x":0.12,"y":-0.027},{"s":32,"x":1.12,"y":-0.033},{"s":32,"x":2.12,"y":0.007},{"s":32,"x":3.12,"y":0.042},{"s":32,"x":4.12,"y":0.031},{"s":32,"x":5.12,"y":0.049},
      {"s":33,"x":-4.86,"y":-0.009},{"s":33,"x":-3.86,"y":0.027},{"s":33,"x":-2.86,"y":-0.008},{"s":33,"x":-1.86,"y":0.002},{"s":33,"x":-0.86,"y":0},{"s":33,"x":0.14,"y":-0.026},{"s":33,"x":1.14,"y":-0.035},{"s":33,"x":2.14,"y":0.008},{"s":33,"x":3.14,"y":0.044},{"s":33,"x":4.14,"y":0.03},{"s":33,"x":5.14,"y":0.05},
      {"s":34,"x":-4.84,"y":-0.008},{"s":34,"x":-3.84,"y":0.028},{"s":34,"x":-2.84,"y":-0.007},{"s":34,"x":-1.84,"y":0.001},{"s":34,"x":-0.84,"y":0},{"s":34,"x":0.16,"y":-0.028},{"s":34,"x":1.16,"y":-0.033},{"s":34,"x":2.16,"y":0.006},{"s":34,"x":3.16,"y":0.043},{"s":34,"x":4.16,"y":0.032},{"s":34,"x":5.16,"y":0.048},
      {"s":35,"x":-4.82,"y":-0.01},{"s":35,"x":-3.82,"y":0.029},{"s":35,"x":-2.82,"y":-0.009},{"s":35,"x":-1.82,"y":0},{"s":35,"x":-0.82,"y":0},{"s":35,"x":0.18,"y":-0.027},{"s":35,"x":1.18,"y":-0.032},{"s":35,"x":2.18,"y":0.009},{"s":35,"x":3.18,"y":0.042},{"s":35,"x":4.18,"y":0.031},{"s":35,"x":5.18,"y":0.049},
      {"s":36,"x":-4.8,"y":-0.009},{"s":36,"x":-3.8,"y":0.047},{"s":36,"x":-2.8,"y":0.0135},{"s":36,"x":-1.8,"y":0.011},{"s":36,"x":-0.8,"y":0},{"s":36,"x":0.2,"y":-0.0142},{"s":36,"x":1.2,"y":-0.02},{"s":36,"x":2.2,"y":0.007},{"s":36,"x":3.2,"y":0.044},{"s":36,"x":4.2,"y":0.03},{"s":36,"x":5.2,"y":0.05},
      {"s":37,"x":-4.78,"y":-0.0125},{"s":37,"x":-3.78,"y":0.028},{"s":37,"x":-2.78,"y":-0.008},{"s":37,"x":-1.78,"y":0.001},{"s":37,"x":-0.78,"y":0},{"s":37,"x":0.22,"y":-0.028},{"s":37,"x":1.22,"y":-0.034},{"s":37,"x":2.22,"y":0.008},{"s":37,"x":3.22,"y":0.049},{"s":37,"x":4.22,"y":0.026},{"s":37,"x":5.22,"y":0.054},
      {"s":38,"x":-4.76,"y":-0.008},{"s":38,"x":-3.76,"y":0.027},{"s":38,"x":-2.76,"y":-0.009},{"s":38,"x":-1.76,"y":0.002},{"s":38,"x":-0.76,"y":0},{"s":38,"x":0.24,"y":-0.026},{"s":38,"x":1.24,"y":-0.033},{"s":38,"x":2.24,"y":0.006},{"s":38,"x":3.24,"y":0.042},{"s":38,"x":4.24,"y":0.032},{"s":38,"x":5.24,"y":0.048},
      {"s":39,"x":-4.74,"y":-0.01},{"s":39,"x":-3.74,"y":0.029},{"s":39,"x":-2.74,"y":-0.007},{"s":39,"x":-1.74,"y":0},{"s":39,"x":-0.74,"y":0},{"s":39,"x":0.26,"y":-0.027},{"s":39,"x":1.26,"y":-0.035},{"s":39,"x":2.26,"y":0.009},{"s":39,"x":3.26,"y":0.043},{"s":39,"x":4.26,"y":0.031},{"s":39,"x":5.26,"y":0.049},
      {"s":40,"x":-4.72,"y":-0.009},{"s":40,"x":-3.72,"y":0.028},{"s":40,"x":-2.72,"y":-0.008},{"s":40,"x":-1.72,"y":0.001},{"s":40,"x":-0.72,"y":0},{"s":40,"x":0.28,"y":-0.028},{"s":40,"x":1.28,"y":-0.032},{"s":40,"x":2.28,"y":0.007},{"s":40,"x":3.28,"y":0.044},{"s":40,"x":4.28,"y":0.03},{"s":40,"x":5.28,"y":0.05},
      {"s":41,"x":-4.7,"y":-0.008},{"s":41,"x":-3.7,"y":0.027},{"s":41,"x":-2.7,"y":-0.009},{"s":41,"x":-1.7,"y":0.002},{"s":41,"x":-0.7,"y":0},{"s":41,"x":0.3,"y":-0.026},{"s":41,"x":1.3,"y":-0.034},{"s":41,"x":2.3,"y":0.008},{"s":41,"x":3.3,"y":0.042},{"s":41,"x":4.3,"y":0.032},{"s":41,"x":5.3,"y":0.048},
      {"s":42,"x":-4.68,"y":-0.01},{"s":42,"x":-3.68,"y":0.029},{"s":42,"x":-2.68,"y":-0.007},{"s":42,"x":-1.68,"y":0},{"s":42,"x":-0.68,"y":0},{"s":42,"x":0.32,"y":-0.027},{"s":42,"x":1.32,"y":-0.033},{"s":42,"x":2.32,"y":0.006},{"s":42,"x":3.32,"y":0.043},{"s":42,"x":4.32,"y":0.031},{"s":42,"x":5.32,"y":0.049},
      {"s":43,"x":-4.66,"y":-0.009},{"s":43,"x":-3.66,"y":0.028},{"s":43,"x":-2.66,"y":-0.008},{"s":43,"x":-1.66,"y":0.001},{"s":43,"x":-0.66,"y":0},{"s":43,"x":0.34,"y":-0.028},{"s":43,"x":1.34,"y":-0.035},{"s":43,"x":2.34,"y":0.009},{"s":43,"x":3.34,"y":0.044},{"s":43,"x":4.34,"y":0.03},{"s":43,"x":5.34,"y":0.05},
      {"s":44,"x":-4.64,"y":-0.008},{"s":44,"x":-3.64,"y":0.027},{"s":44,"x":-2.64,"y":-0.009},{"s":44,"x":-1.64,"y":0.002},{"s":44,"x":-0.64,"y":0},{"s":44,"x":0.36,"y":-0.026},{"s":44,"x":1.36,"y":-0.033},{"s":44,"x":2.36,"y":0.007},{"s":44,"x":3.36,"y":0.042},{"s":44,"x":4.36,"y":0.032},{"s":44,"x":5.36,"y":0.048},
      {"s":45,"x":-4.62,"y":-0.01},{"s":45,"x":-3.62,"y":0.029},{"s":45,"x":-2.62,"y":-0.007},{"s":45,"x":-1.62,"y":0},{"s":45,"x":-0.62,"y":0},{"s":45,"x":0.38,"y":-0.027},{"s":45,"x":1.38,"y":-0.034},{"s":45,"x":2.38,"y":0.008},{"s":45,"x":3.38,"y":0.043},{"s":45,"x":4.38,"y":0.031},{"s":45,"x":5.38,"y":0.049},
      {"s":46,"x":-4.6,"y":-0.009},{"s":46,"x":-3.6,"y":0.028},{"s":46,"x":-2.6,"y":-0.008},{"s":46,"x":-1.6,"y":0.001},{"s":46,"x":-0.6,"y":0},{"s":46,"x":0.4,"y":-0.028},{"s":46,"x":1.4,"y":-0.032},{"s":46,"x":2.4,"y":0.006},{"s":46,"x":3.4,"y":0.044},{"s":46,"x":4.4,"y":0.03},{"s":46,"x":5.4,"y":0.05},
      {"s":47,"x":-4.58,"y":-0.008},{"s":47,"x":-3.58,"y":0.027},{"s":47,"x":-2.58,"y":-0.009},{"s":47,"x":-1.58,"y":0.002},{"s":47,"x":-0.58,"y":0},{"s":47,"x":0.42,"y":-0.026},{"s":47,"x":1.42,"y":-0.033},{"s":47,"x":2.42,"y":0.009},{"s":47,"x":3.42,"y":0.042},{"s":47,"x":4.42,"y":0.032},{"s":47,"x":5.42,"y":0.048},
      {"s":48,"x":-4.56,"y":-0.01},{"s":48,"x":-3.56,"y":0.029},{"s":48,"x":-2.56,"y":-0.007},{"s":48,"x":-1.56,"y":0},{"s":48,"x":-0.56,"y":0},{"s":48,"x":0.44,"y":-0.027},{"s":48,"x":1.44,"y":-0.035},{"s":48,"x":2.44,"y":0.007},{"s":48,"x":3.44,"y":0.043},{"s":48,"x":4.44,"y":0.031},{"s":48,"x":5.44,"y":0.049},
      {"s":49,"x":-4.54,"y":-0.009},{"s":49,"x":-3.54,"y":0.028},{"s":49,"x":-2.54,"y":-0.008},{"s":49,"x":-1.54,"y":0.001},{"s":49,"x":-0.54,"y":0},{"s":49,"x":0.46,"y":-0.028},{"s":49,"x":1.46,"y":-0.034},{"s":49,"x":2.46,"y":0.008},{"s":49,"x":3.46,"y":0.044},{"s":49,"x":4.46,"y":0.03},{"s":49,"x":5.46,"y":0.05},
      {"s":50,"x":-4.52,"y":-0.008},{"s":50,"x":-3.52,"y":0.027},{"s":50,"x":-2.52,"y":-0.009},{"s":50,"x":-1.52,"y":0.002},{"s":50,"x":-0.52,"y":0},{"s":50,"x":0.48,"y":-0.026},{"s":50,"x":1.48,"y":-0.033},{"s":50,"x":2.48,"y":0.005},{"s":50,"x":3.48,"y":0.042},{"s":50,"x":4.48,"y":0.032},{"s":50,"x":5.48,"y":0.048}
    ]
  },
  "hconcat": [
    {
      "title": {"text": "Log Per-pupil Expenditure"},
      "width": 403,
      "height": 253,
      "data": {"name": "expenditure"},
      "layer": [
        {
          "mark": {"type": "rule", "color": "#D8264F", "strokeWidth": 1},
          "encoding": {"y": {"datum": 0, "type": "quantitative", "scale": {"domain": [-0.0436, 0.0666], "nice": false, "zero": false}}}
        },
        {
          "mark": {"type": "line", "strokeWidth": 0.75},
          "encoding": {
            "x": {"field": "x", "type": "quantitative", "scale": {"domain": [-5.5, 5.5], "nice": false, "zero": false}, "axis": {"values": [-5, -4, -3, -2, -1, 0, 1, 2, 3, 4, 5], "labelExpr": "'' + datum.value", "labelOverlap": false, "title": "Years Since Amendment Passed"}},
            "y": {"field": "y", "type": "quantitative", "axis": {"values": [-0.04, -0.02, 0, 0.02, 0.04, 0.06], "labelExpr": "datum.value == 0 ? '0' : replace('' + datum.value, '0.', '.')", "title": "Estimated Coefficients"}},
            "color": {"field": "s", "type": "nominal", "legend": null, "scale": {"domain": [1,2,3,4,5,6,7,8,9,10,11,12,13,14,15,16,17,18,19,20,21,22,23,24,25,26,27,28,29,30,31,32,33,34,35,36,37,38,39,40,41,42,43,44,45,46,47,48,49,50], "range": ["#1A476F","#90353B","#55752F","#E37E00","#6E8E84","#C10534","#938DD2","#CAC27E","#A0522D","#7B92A8","#2D6D66","#9C8847","#BFA19C","#FFD200","#D9E6EB","#1A476F","#1A476F","#1A476F","#1A476F","#1A476F","#1A476F","#1A476F","#1A476F","#1A476F","#1A476F","#1A476F","#1A476F","#1A476F","#1A476F","#1A476F","#1A476F","#1A476F","#1A476F","#1A476F","#1A476F","#1A476F","#1A476F","#1A476F","#1A476F","#1A476F","#1A476F","#1A476F","#1A476F","#1A476F","#1A476F","#1A476F","#1A476F","#1A476F","#1A476F","#1A476F"]}}
          }
        },
        {
          "mark": {"type": "point", "filled": true, "size": 36, "opacity": 1, "strokeWidth": 0},
          "encoding": {
            "x": {"field": "x", "type": "quantitative"},
            "y": {"field": "y", "type": "quantitative"},
            "color": {"field": "s", "type": "nominal", "legend": null}
          }
        }
      ]
    },
    {
      "title": {"text": "Log Per-pupil Teacher Salary", "dx": 4},
      "width": 395,
      "height": 253,
      "data": {"name": "salary"},
      "layer": [
        {
          "mark": {"type": "rule", "color": "#D8264F", "strokeWidth": 1, "clip": true},
          "encoding": {"y": {"datum": 0, "type": "quantitative", "scale": {"domain": [-0.0524, 0.0635], "nice": false, "zero": false}}}
        },
        {
          "mark": {"type": "line", "strokeWidth": 0.75, "clip": true},
          "encoding": {
            "x": {"field": "x", "type": "quantitative", "scale": {"domain": [-5.5, 5.26], "nice": false, "zero": false}, "axis": {"values": [-5, -4, -3, -2, -1, 0, 1, 2, 3, 4, 5], "labelExpr": "'' + datum.value", "labelOverlap": false, "labelFlush": false, "labelSeparation": 0, "title": "Years Since Amendment Passed"}},
            "y": {"field": "y", "type": "quantitative", "axis": {"values": [-0.04, -0.02, 0, 0.02, 0.04, 0.06], "labelExpr": "datum.value == 0 ? '0' : replace('' + datum.value, '0.', '.')", "title": "Estimated Coefficients"}},
            "color": {"field": "s", "type": "nominal", "legend": null, "scale": {"domain": [1,2,3,4,5,6,7,8,9,10,11,12,13,14,15,16,17,18,19,20,21,22,23,24,25,26,27,28,29,30,31,32,33,34,35,36,37,38,39,40,41,42,43,44,45,46,47,48,49,50], "range": ["#1A476F","#90353B","#55752F","#E37E00","#6E8E84","#C10534","#938DD2","#CAC27E","#A0522D","#7B92A8","#2D6D66","#9C8847","#BFA19C","#FFD200","#D9E6EB","#1A476F","#1A476F","#1A476F","#1A476F","#1A476F","#1A476F","#1A476F","#1A476F","#1A476F","#1A476F","#1A476F","#1A476F","#1A476F","#1A476F","#1A476F","#1A476F","#1A476F","#1A476F","#1A476F","#1A476F","#1A476F","#1A476F","#1A476F","#1A476F","#1A476F","#1A476F","#1A476F","#1A476F","#1A476F","#1A476F","#1A476F","#1A476F","#1A476F","#1A476F","#1A476F"]}}
          }
        },
        {
          "mark": {"type": "point", "filled": true, "size": 36, "opacity": 1, "strokeWidth": 0, "clip": true},
          "encoding": {
            "x": {"field": "x", "type": "quantitative", "axis": {"values": [-5, -4, -3, -2, -1, 0, 1, 2, 3, 4, 5], "labelExpr": "'' + datum.value", "labelOverlap": false, "labelFlush": false, "labelSeparation": 0, "title": "Years Since Amendment Passed"}},
            "y": {"field": "y", "type": "quantitative"},
            "color": {"field": "s", "type": "nominal", "legend": null}
          }
        }
      ]
    }
  ]
}
